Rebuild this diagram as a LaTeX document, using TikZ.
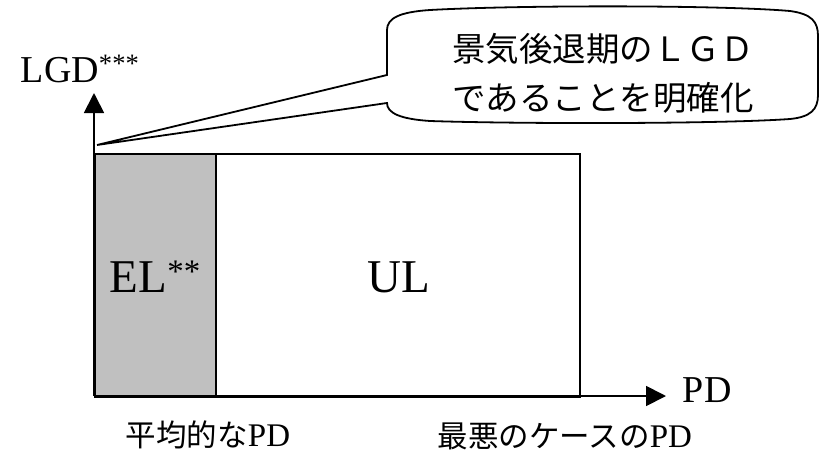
\documentclass[tikz,border=0pt]{standalone}
\usepackage{fontspec}
\setmainfont{Liberation Serif}
\newfontfamily\jfont{Noto Sans CJK JP}
\usetikzlibrary{arrows.meta}
\definecolor{elgray}{RGB}{192,192,192}
\begin{document}
\begin{tikzpicture}[x=1pt,y=-1pt,
  line width=1.8pt,
  boxstyle/.style={draw=black, line width=1.8pt, inner sep=0pt, anchor=north west},
  lbl/.style={inner sep=0pt, anchor=base},
  axisarrow/.style={-{Triangle[width=20pt,length=20pt]}, line width=1.8pt}]
\useasboundingbox (0,0) rectangle (821,455);
% boxes
\node[boxstyle, fill=elgray, minimum width=121pt, minimum height=243pt] (el) at (94,153) {};
\node[boxstyle, fill=white, minimum width=364pt, minimum height=243pt] (ul) at (215,153) {};
% axes
\coordinate (O) at (94,396);
\coordinate (ytip) at (94,93);
\coordinate (xtip) at (666,396);
\draw[axisarrow] (O) -- (ytip);
\draw[axisarrow] (O) -- (xtip);
% labels
\node[lbl, anchor=base west, font=\fontsize{38}{40}\selectfont] (lgd) at (20,82) {LGD\textsuperscript{***}};
\node[lbl, anchor=base west, font=\fontsize{38}{40}\selectfont] (pd) at (682,402) {PD};
\node[lbl, anchor=base west, font=\fontsize{47}{50}\selectfont] (eltext) at (109,292) {EL\textsuperscript{**}};
\node[lbl, anchor=base west, font=\fontsize{47}{50}\selectfont] (ultext) at (367,292) {UL};
\node[lbl, anchor=base west] (avgpd) at (125,446) {{\jfont\fontsize{30.5}{32}\selectfont 平均的な}{\fontsize{33}{35}\selectfont PD}};
\node[lbl, anchor=base west] (worstpd) at (437,447) {{\jfont\fontsize{30.5}{32}\selectfont 最悪のケースの}{\fontsize{33}{35}\selectfont PD}};
% callout
\coordinate (ptip) at (97,145);
\draw[line width=1.8pt, fill=white]
  (387,75) -- (387,30) .. controls (387,18) and (400,12) .. (430,10)
  .. controls (520,5) and (720,5) .. (790,11)
  .. controls (812,14) and (818,22) .. (818,36) -- (818,95)
  .. controls (818,110) and (810,117) .. (790,119)
  .. controls (720,124) and (520,124) .. (430,121)
  .. controls (400,119) and (387,113) .. (387,103) -- (ptip) -- cycle;
\node[lbl, font=\jfont\fontsize{33.5}{36}\selectfont] (call1) at (603,61) {景気後退期のＬＧＤ};
\node[lbl, font=\jfont\fontsize{33.5}{36}\selectfont] (call2) at (603,110) {であることを明確化};
\end{tikzpicture}
\end{document}
